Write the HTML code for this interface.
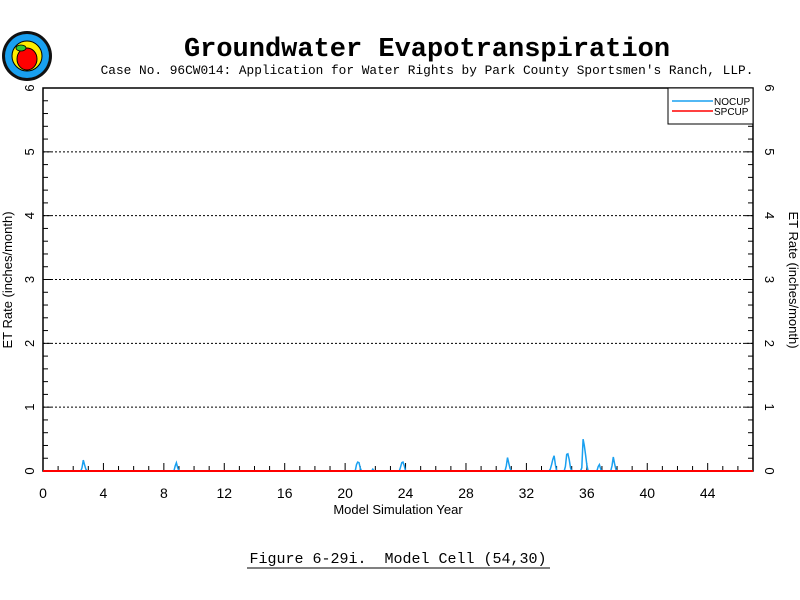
<!DOCTYPE html>
<html><head><meta charset="utf-8"><style>
body{margin:0;background:#fff;}
svg{display:block;font-family:"Liberation Sans",sans-serif;}
</style></head><body>
<svg id="c" width="800" height="600" viewBox="0 0 800 600">
<g>
<circle cx="27" cy="56" r="25" fill="#111"/>
<circle cx="27" cy="56" r="22" fill="#19a0f0"/>
<circle cx="27" cy="56" r="15" fill="#ffee00" stroke="#000" stroke-width="1"/>
<ellipse cx="27" cy="59" rx="10" ry="11" fill="#f00" stroke="#000" stroke-width="1"/>
<ellipse cx="21" cy="48" rx="5" ry="3" fill="#3c3" stroke="#000" stroke-width="0.8"/>
</g>
<text x="427" y="56" text-anchor="middle" font-family="Liberation Mono,monospace" font-weight="bold" font-size="27">Groundwater Evapotranspiration</text>
<text x="427" y="74" text-anchor="middle" font-family="Liberation Mono,monospace" font-size="12.8">Case No. 96CW014: Application for Water Rights by Park County Sportsmen's Ranch, LLP.</text>
<g id="plot"></g>
<text x="398" y="563" text-anchor="middle" font-family="Liberation Mono,monospace" font-size="15" xml:space="preserve">Figure 6-29i.  Model Cell (54,30)</text>
<line x1="247" y1="568" x2="550" y2="568" stroke="#000" stroke-width="1"/>
</svg>
<script>
const xTicks=[0,4,8,12,16,20,24,28,32,36,40,44];
const yTicks=[0,1,2,3,4,5,6];
const seriesNames=["NOCUP","SPCUP"];
const nocupYears=[2.58,2.67,2.75,2.83, 8.75,8.83,8.92, 20.75,20.83,20.92,21.0, 21.83, 23.67,23.75,23.83,23.92, 30.67,30.75,30.83,30.92, 33.58,33.67,33.75,33.83,33.92, 34.58,34.67,34.75,34.83,34.92, 35.67,35.75,35.83,35.92,36.0, 36.75,36.83,36.92, 37.67,37.75,37.83,37.92];
const nocupValues=[0.05,0.17,0.1,0.03, 0.08,0.13,0.05, 0.1,0.14,0.13,0.05, 0.03, 0.06,0.13,0.14,0.08, 0.08,0.21,0.12,0.04, 0.03,0.1,0.18,0.24,0.1, 0.07,0.26,0.27,0.18,0.05, 0.05,0.5,0.4,0.25,0.1, 0.07,0.1,0.03, 0.08,0.22,0.12,0.03];
const spcupValue=[0];
const X0=43,X1=753,Y0=471,Y1=88,XMAX=47,YMAX=6;
const sx=v=>X0+(v/XMAX)*(X1-X0);
const sy=v=>Y0-(v/YMAX)*(Y0-Y1);
const NS="http://www.w3.org/2000/svg";
const g=document.getElementById('plot');
function mk(t,a,p){const e=document.createElementNS(NS,t);for(const k in a)e.setAttribute(k,a[k]);(p||g).appendChild(e);return e;}
let e;
yTicks.forEach(v=>{if(v>0&&v<6){e=mk('line',{x1:X0,x2:X1,y1:sy(v),y2:sy(v),stroke:'#000','stroke-dasharray':'2,2','stroke-width':1});

}});
e=mk('rect',{x:X0,y:Y1,width:X1-X0,height:Y0-Y1,fill:'none',stroke:'#000','stroke-width':1.5});


for(let i=0;i<=30;i++){const v=i*0.2,y=sy(v),L=(i%5==0)?8:5;
mk('line',{x1:X0,x2:X0+L,y1:y,y2:y,stroke:'#000'});mk('line',{x1:X1,x2:X1-L,y1:y,y2:y,stroke:'#000'});}
for(let i=0;i<=47;i++){const x=sx(i),L=(i%4==0)?8:5;mk('line',{x1:x,x2:x,y1:Y0,y2:Y0-L,stroke:'#000'});}
xTicks.forEach(v=>{e=mk('text',{x:sx(v),y:Y0+27,'text-anchor':'middle','font-size':14});e.textContent=v;

});
yTicks.forEach(v=>{
e=mk('text',{x:0,y:0,transform:`translate(${X0-9},${sy(v)}) rotate(-90)`,'text-anchor':'middle','font-size':13});e.textContent=v;


e=mk('text',{x:0,y:0,transform:`translate(${X1+12},${sy(v)}) rotate(90)`,'text-anchor':'middle','font-size':13});e.textContent=v;

});
e=mk('text',{x:398,y:514,'text-anchor':'middle','font-size':13});e.textContent='Model Simulation Year';


e=mk('text',{x:0,y:0,transform:'translate(12,280) rotate(-90)','text-anchor':'middle','font-size':13});e.textContent='ET Rate (inches/month)';


e=mk('text',{x:0,y:0,transform:'translate(789,280) rotate(90)','text-anchor':'middle','font-size':13});e.textContent='ET Rate (inches/month)';


const vals={};nocupYears.forEach((y,i)=>vals[Math.round(y*12)]=nocupValues[i]);
let pts=[];for(let m=0;m<=XMAX*12;m++){const v=vals[m]||0;pts.push(sx(m/12).toFixed(1)+','+sy(v).toFixed(1));}
e=mk('polyline',{points:pts.join(' '),fill:'none',stroke:'#19a0f0','stroke-width':1.5});


e=mk('line',{x1:X0,x2:X1,y1:sy(spcupValue[0]),y2:sy(spcupValue[0]),stroke:'#f00','stroke-width':2});


const lg=mk('g',{});


mk('rect',{x:668,y:88,width:85,height:36,fill:'#fff',stroke:'#000'},lg);
const cols=['#19a0f0','#f00'];
seriesNames.forEach((n,i)=>{const y=101+i*10;
mk('line',{x1:672,x2:713,y1:y,y2:y,stroke:cols[i],'stroke-width':1.5},lg);
e=mk('text',{x:714,y:y+4,'font-size':10},lg);e.textContent=n;

});
</script>
</body></html>
